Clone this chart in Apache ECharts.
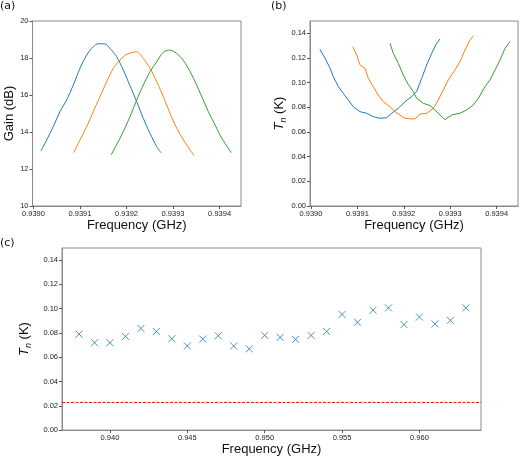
<!DOCTYPE html>
<html>
<head>
<meta charset="utf-8">
<script src="https://cdn.jsdelivr.net/npm/echarts@6/dist/echarts.min.js"></script>
<style>
  html, body { margin: 0; padding: 0; background: #fff; }
  #main { width: 520px; height: 457px; }
</style>
</head>
<body>
<div id="main"></div>
<script>
// (a) gain curves
var gainBlueF = [0.9390161, 0.9390284, 0.9390426, 0.9390570, 0.9390714, 0.9390856, 0.9391000, 0.9391144, 0.9391286, 0.9391394, 0.9391538, 0.9391645, 0.9391789, 0.9391931, 0.9392075, 0.9392219, 0.9392361, 0.9392505, 0.9392649, 0.9392742];
var gainBlueV = [12.97, 13.57, 14.29, 15.10, 15.73, 16.54, 17.44, 18.16, 18.61, 18.77, 18.76, 18.52, 18.07, 17.35, 16.50, 15.64, 14.74, 13.93, 13.21, 12.88];
var gainOrangeF = [0.9390864, 0.9391000, 0.9391144, 0.9391286, 0.9391430, 0.9391574, 0.9391716, 0.9391860, 0.9392004, 0.9392146, 0.9392219, 0.9392361, 0.9392505, 0.9392649, 0.9392791, 0.9392935, 0.9393080, 0.9393222, 0.9393366, 0.9393452];
var gainOrangeV = [12.88, 13.57, 14.29, 15.10, 15.91, 16.72, 17.44, 17.89, 18.20, 18.31, 18.34, 17.98, 17.44, 16.72, 15.91, 15.01, 14.20, 13.57, 13.03, 12.72];
var gainGreenF = [0.9391667, 0.9391860, 0.9392075, 0.9392219, 0.9392361, 0.9392505, 0.9392649, 0.9392791, 0.9392920, 0.9393043, 0.9393187, 0.9393329, 0.9393473, 0.9393617, 0.9393759, 0.9393903, 0.9394047, 0.9394189, 0.9394247];
var gainGreenV = [12.76, 13.66, 14.83, 15.73, 16.54, 17.26, 17.80, 18.31, 18.43, 18.31, 17.98, 17.44, 16.72, 15.91, 15.10, 14.38, 13.66, 13.12, 12.88];

// (b) noise temperature curves
var tnBlueF = [0.9390194, 0.9390302, 0.9390409, 0.9390481, 0.9390588, 0.9390696, 0.9390804, 0.9390912, 0.9391056, 0.9391200, 0.9391343, 0.9391487, 0.9391631, 0.9391739, 0.9391881, 0.9392026, 0.9392170, 0.9392278, 0.9392386, 0.9392494, 0.9392601, 0.9392709, 0.9392780];
var tnBlueV = [0.127, 0.120, 0.112, 0.105, 0.097, 0.0914, 0.086, 0.0805, 0.0765, 0.0752, 0.0724, 0.0711, 0.0716, 0.0752, 0.0792, 0.0845, 0.0887, 0.093, 0.1036, 0.1144, 0.1238, 0.132, 0.1354];
var tnOrangeF = [0.9390899, 0.9390985, 0.9391056, 0.9391164, 0.9391235, 0.9391343, 0.9391450, 0.9391558, 0.9391703, 0.9391810, 0.9391918, 0.9392026, 0.9392170, 0.9392241, 0.9392349, 0.9392494, 0.9392636, 0.9392744, 0.9392851, 0.9392959, 0.9393103, 0.9393211, 0.9393319, 0.9393427, 0.9393498];
var tnOrangeV = [0.1292, 0.1225, 0.1144, 0.1117, 0.1036, 0.0968, 0.090, 0.0846, 0.0805, 0.0765, 0.0738, 0.0711, 0.0706, 0.0706, 0.0744, 0.0752, 0.0792, 0.086, 0.0941, 0.1022, 0.1103, 0.117, 0.1265, 0.1346, 0.1381];
var tnGreenF = [0.9391703, 0.9391774, 0.9391881, 0.9391989, 0.9392097, 0.9392205, 0.9392278, 0.9392420, 0.9392565, 0.9392672, 0.9392780, 0.9392888, 0.9393032, 0.9393211, 0.9393356, 0.9393498, 0.9393606, 0.9393750, 0.9393858, 0.9393966, 0.9394073, 0.9394181, 0.9394289];
var tnGreenV = [0.132, 0.1238, 0.1157, 0.1062, 0.0985, 0.0927, 0.0873, 0.0833, 0.0814, 0.0779, 0.0738, 0.0700, 0.0738, 0.0752, 0.0779, 0.0819, 0.0873, 0.0968, 0.1022, 0.1103, 0.1184, 0.1279, 0.1333];

// (c) scan over frequency
var scanF = [0.938, 0.939, 0.940, 0.941, 0.942, 0.943, 0.944, 0.945, 0.946, 0.947, 0.948, 0.949, 0.950, 0.951, 0.952, 0.953, 0.954, 0.955, 0.956, 0.957, 0.958, 0.959, 0.960, 0.961, 0.962, 0.963];
var scanTn = [0.0791, 0.0720, 0.0720, 0.0772, 0.0837, 0.0812, 0.0753, 0.0693, 0.0750, 0.0777, 0.0693, 0.0669, 0.0780, 0.0764, 0.0747, 0.0780, 0.0812, 0.0953, 0.0888, 0.0988, 0.1007, 0.0869, 0.0931, 0.0875, 0.0904, 0.1007];
var quantumLimit = 0.0228;

var ticksAB = [0.9390, 0.9391, 0.9392, 0.9393, 0.9394];
var gainTicks = [10, 12, 14, 16, 18, 20];
var tnTicks = [0, 0.02, 0.04, 0.06, 0.08, 0.10, 0.12, 0.14];
var ticksC = [0.940, 0.945, 0.950, 0.955, 0.960];

var colors = ['#1f77b4', '#ff7f0e', '#2ca02c'];
var font = 'Liberation Sans';
var boxColor = '#8a8a8a';
var cMin = 0.9369, cMax = 0.96398;

function pairs(xs, ys) {
    return xs.map(function (x, i) { return [x, ys[i]]; });
}

function xAxisOf(gridIndex, min, max, ticks, digits, gap) {
    return {
        type: 'value', gridIndex: gridIndex, min: min, max: max,
        name: 'Frequency (GHz)', nameLocation: 'middle', nameGap: gap,
        nameTextStyle: { fontFamily: font, fontSize: 13, color: '#111' },
        axisLine: { show: true, onZero: false, lineStyle: { color: boxColor } },
        axisTick: { show: true, length: 3, customValues: ticks, lineStyle: { color: '#555' } },
        axisLabel: {
            customValues: ticks, fontFamily: font, fontSize: 7.5, color: '#222', margin: 4,
            formatter: function (v) { return v.toFixed(digits); }
        },
        splitLine: { show: false }
    };
}

function yAxisOf(gridIndex, min, max, ticks, digits, name, gap) {
    return {
        type: 'value', gridIndex: gridIndex, min: min, max: max,
        name: name, nameLocation: 'middle', nameGap: gap,
        nameTextStyle: {
            fontFamily: font, fontSize: 13, color: '#111',
            rich: {
                t: { fontFamily: font, fontSize: 13, fontStyle: 'italic', color: '#111', verticalAlign: 'top' },
                s: { fontFamily: font, fontSize: 9, fontStyle: 'italic', color: '#111', verticalAlign: 'top', padding: [6, 0, 0, 0] },
                r: { fontFamily: font, fontSize: 13, color: '#111', verticalAlign: 'top' }
            }
        },
        axisLine: { show: true, lineStyle: { color: boxColor } },
        axisTick: { show: true, length: 3, customValues: ticks, lineStyle: { color: '#555' } },
        axisLabel: {
            customValues: ticks, fontFamily: font, fontSize: 7.5, color: '#222', margin: 4,
            formatter: function (v) { return v.toFixed(digits); }
        },
        splitLine: { show: false }
    };
}

function lineSeries(idx, xs, ys, color, smooth) {
    return {
        type: 'line', xAxisIndex: idx, yAxisIndex: idx,
        data: pairs(xs, ys), showSymbol: false, smooth: smooth,
        lineStyle: { color: color, width: 1 }, itemStyle: { color: color },
        animation: false
    };
}

var myChart = echarts.init(document.getElementById('main'));
var tnName = '{t|T}{s|n}{r| (K)}';
var option = {
    animation: false,
    grid: [
        { left: 32.5, top: 21, width: 208.5, height: 185, show: true, borderColor: boxColor, borderWidth: 1 },
        { left: 310, top: 21, width: 208, height: 185, show: true, borderColor: boxColor, borderWidth: 1 },
        { left: 62, top: 248, width: 419, height: 184, show: true, borderColor: boxColor, borderWidth: 1 }
    ],
    xAxis: [
        xAxisOf(0, 0.938998, 0.939446, ticksAB, 4, 8),
        xAxisOf(1, 0.938998, 0.939446, ticksAB, 4, 8),
        xAxisOf(2, cMin, cMax, ticksC, 3, 11)
    ],
    yAxis: [
        yAxisOf(0, 10, 20, gainTicks, 0, 'Gain (dB)', 16),
        yAxisOf(1, 0, 0.15, tnTicks, 2, tnName, 20),
        yAxisOf(2, 0, 0.15, tnTicks, 2, tnName, 21)
    ],
    graphic: [
        { type: 'text', left: 0, top: 1, style: { text: '(a)', fontFamily: 'DejaVu Sans', fontSize: 11, fill: '#111' } },
        { type: 'text', left: 271, top: 1, style: { text: '(b)', fontFamily: 'DejaVu Sans', fontSize: 11, fill: '#111' } },
        { type: 'text', left: 0, top: 238, style: { text: '(c)', fontFamily: 'DejaVu Sans', fontSize: 11, fill: '#111' } }
    ],
    series: [
        lineSeries(0, gainBlueF, gainBlueV, colors[0], 0.3),
        lineSeries(0, gainOrangeF, gainOrangeV, colors[1], 0.3),
        lineSeries(0, gainGreenF, gainGreenV, colors[2], 0.3),
        lineSeries(1, tnBlueF, tnBlueV, colors[0], false),
        lineSeries(1, tnOrangeF, tnOrangeV, colors[1], false),
        lineSeries(1, tnGreenF, tnGreenV, colors[2], false),
        {
            // horizontal reference level across the full axis width
            type: 'line', xAxisIndex: 2, yAxisIndex: 2,
            data: [[cMin, quantumLimit], [cMax, quantumLimit]],
            showSymbol: false, silent: true,
            lineStyle: { color: '#ff0000', width: 1, type: [3, 1.5] }
        },
        {
            type: 'scatter', xAxisIndex: 2, yAxisIndex: 2,
            data: pairs(scanF, scanTn),
            symbol: 'path://M0,0L10,10M10,0L0,10', symbolSize: 7,
            itemStyle: { color: 'transparent', borderColor: colors[0], borderWidth: 1 }
        }
    ]
};
myChart.setOption(option);
</script>
</body>
</html>
